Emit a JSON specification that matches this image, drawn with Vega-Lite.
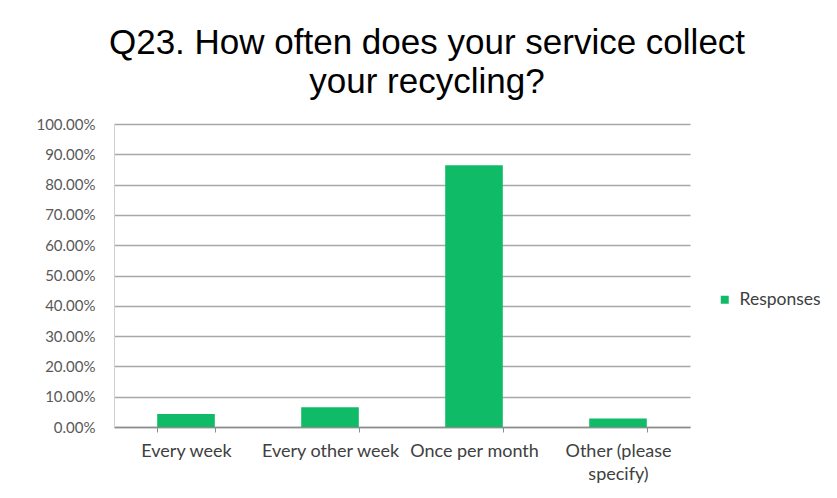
{
  "$schema": "https://vega.github.io/schema/vega-lite/v6.json",
  "width": 576,
  "height": 303,
  "autosize": {"type": "none"},
  "padding": {"left": 114, "top": 124, "right": 147, "bottom": 71},
  "background": "white",
  "title": {
    "text": ["Q23. How often does your service collect", "your recycling?"],
    "font": "Liberation Sans",
    "fontSize": 35,
    "fontWeight": "normal",
    "color": "#000000",
    "lineHeight": 39,
    "anchor": "middle",
    "dx": 25,
    "offset": 17
  },
  "data": {
    "values": [
      {"answer": "Every week", "share": 0.043, "series": "Responses"},
      {"answer": "Every other week", "share": 0.065, "series": "Responses"},
      {"answer": "Once per month", "share": 0.864, "series": "Responses"},
      {"answer": "Other (please specify)", "share": 0.028, "series": "Responses"}
    ]
  },
  "mark": {"type": "bar"},
  "encoding": {
    "x": {
      "field": "answer",
      "type": "nominal",
      "sort": null,
      "scale": {"paddingInner": 0.6, "paddingOuter": 0.3},
      "axis": {
        "title": null,
        "labelAngle": 0,
        "labelFont": "Lato",
        "labelFontSize": 18,
        "labelColor": "#404040",
        "labelPadding": 10,
        "labelLineHeight": 23,
        "labelExpr": "datum.value == 'Other (please specify)' ? ['Other (please', 'specify)'] : datum.value",
        "ticks": true,
        "tickBand": "extent",
        "tickSize": 5,
        "tickColor": "#8c8c8c",
        "domainColor": "#8c8c8c",
        "domainWidth": 1.5,
        "grid": false
      }
    },
    "y": {
      "field": "share",
      "type": "quantitative",
      "scale": {"domain": [0, 1]},
      "axis": {
        "title": null,
        "format": ".2%",
        "values": [0, 0.1, 0.2, 0.3, 0.4, 0.5, 0.6, 0.7, 0.8, 0.9, 1],
        "labelFont": "Lato",
        "labelFontSize": 15,
        "labelColor": "#595959",
        "labelPadding": 19,
        "ticks": false,
        "tickSize": 0,
        "domain": true,
        "domainColor": "#d0d0d0",
        "grid": true,
        "gridColor": "#a8a8a8",
        "gridWidth": 1.3
      }
    },
    "color": {
      "field": "series",
      "type": "nominal",
      "scale": {"range": ["#10bb68"]},
      "legend": {
        "title": null,
        "orient": "none",
        "legendX": 602,
        "legendY": 167,
        "symbolType": "square",
        "symbolSize": 64,
        "symbolStrokeWidth": 0,
        "labelFont": "Lato",
        "labelFontSize": 17.5,
        "labelColor": "#404040",
        "labelOffset": 6
      }
    }
  },
  "config": {"view": {"stroke": null}}
}
